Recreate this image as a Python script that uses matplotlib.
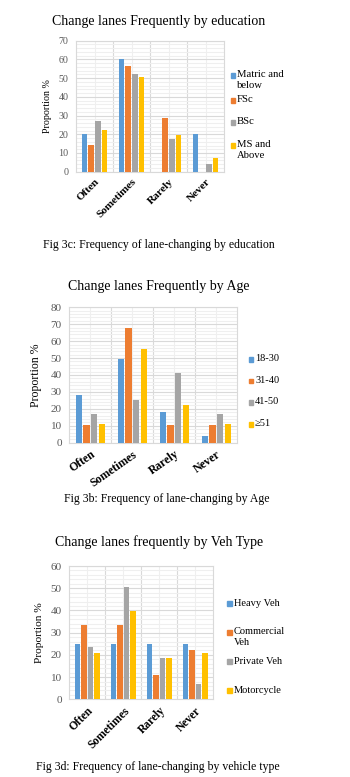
import numpy as np
import matplotlib
matplotlib.use("Agg")
import matplotlib.pyplot as plt
from matplotlib.patches import Rectangle

plt.rcParams['font.family'] = ['Liberation Serif', 'DejaVu Serif']

categories = ["Often", "Sometimes", "Rarely", "Never"]
colors = ["#5B9BD5", "#ED7D31", "#A5A5A5", "#FFC000"]

# Fig 3c - education
edu_labels = ["Matric and\nbelow", "FSc", "BSc", "MS and\nAbove"]
edu_matric = [20.0, 60.0, 0.0, 20.0]
edu_fsc = [14.2, 56.7, 28.6, 0.0]
edu_bsc = [27.0, 52.0, 17.3, 4.0]
edu_ms = [22.2, 50.4, 19.5, 7.3]

# Fig 3b - age
age_labels = ["18-30", "31-40", "41-50", "\u226551"]
age_18_30 = [28.2, 49.6, 18.0, 3.9]
age_31_40 = [10.3, 67.9, 10.3, 10.3]
age_41_50 = [16.8, 25.1, 41.3, 16.8]
age_51 = [10.9, 55.5, 22.3, 10.9]

# Fig 3d - vehicle type
veh_labels = ["Heavy Veh", "Commercial\nVeh", "Private Veh", "Motorcycle"]
veh_heavy = [25.0, 25.0, 25.0, 25.0]
veh_commercial = [33.4, 33.4, 11.0, 22.2]
veh_private = [23.5, 50.6, 18.6, 6.9]
veh_moto = [20.8, 39.7, 18.6, 20.8]

W, H = 350, 777
fig = plt.figure(figsize=(W / 100, H / 100), dpi=100)
fig.patch.set_facecolor("white")


def fx(px):
    return px / W


def fy(py):
    return 1 - py / H


def panel(series, labels, ymax, box, title, title_xy, caption, cap_xy,
          ylab_x, leg_x, leg_ys, rot=45, ytick_fs=7, ylab_fs=7, xtick_fs=8,
          leg_fs=7.5):
    left, right, top, bottom = box
    ax = fig.add_axes([fx(left), fy(bottom), fx(right - left), (bottom - top) / H])
    x = np.arange(len(categories))
    pitch, bw = 0.18, 0.145
    for i, (vals, c) in enumerate(zip(series, colors)):
        ax.bar(x + (i - 1.5) * pitch, vals, width=bw, color=c, zorder=3)
    ax.set_xlim(-0.5, len(categories) - 0.5)
    ax.set_ylim(0, ymax)
    ax.set_yticks(np.arange(0, ymax + 1, 10))
    ax.set_yticks(np.arange(0, ymax + 1, 2), minor=True)
    ax.set_xticks(x)
    ax.set_xticks(x[:-1] + 0.5, minor=True)
    ax.grid(which="major", axis="y", color="#D9D9D9", lw=0.8, zorder=0)
    ax.grid(which="minor", axis="y", color="#EFEFEF", lw=0.8, zorder=0)
    ax.grid(which="minor", axis="x", color="#D9D9D9", lw=0.8, zorder=0)
    ax.grid(which="major", axis="x", color="#EFEFEF", lw=0.8, zorder=0)
    for s in ax.spines.values():
        s.set_color("#D9D9D9")
        s.set_linewidth(0.8)
    ax.tick_params(which="both", length=0)
    ax.tick_params(axis="y", labelsize=ytick_fs, labelcolor="#595959", pad=5.5)
    ax.set_xticklabels(categories, rotation=rot, ha="right", va="top",
                       rotation_mode="anchor", fontsize=xtick_fs, fontweight="bold")
    ax.tick_params(axis="x", pad=4)
    fig.text(fx(ylab_x), fy((top + bottom) / 2), "Proportion %", rotation=90,
             ha="center", va="center", fontsize=ylab_fs)
    fig.text(fx(title_xy[0]), fy(title_xy[1]), title, ha="center", va="center",
             fontsize=10)
    fig.text(fx(cap_xy[0]), fy(cap_xy[1]), caption, ha="center", va="center",
             fontsize=8.5)
    # legend, marker beside the first line of each label (Excel style)
    for lab, c, ly in zip(labels, colors, leg_ys):
        fig.patches.append(Rectangle((fx(leg_x - 2.5), fy(ly + 2.5)), 5 / W, 5 / H,
                                     color=c, transform=fig.transFigure))
        fig.text(fx(leg_x + 4), fy(ly - 5), lab, ha="left", va="top",
                 fontsize=leg_fs, linespacing=1.3)
    return ax


panel([edu_matric, edu_fsc, edu_bsc, edu_ms], edu_labels, 70,
      (76, 224, 40.7, 171.7), "Change lanes Frequently by education", (159, 21),
      "Fig 3c: Frequency of lane-changing by education", (159, 245),
      47, 233, [75, 100, 122, 145], rot=45, ytick_fs=7.2, ylab_fs=7.2,
      xtick_fs=8, leg_fs=7.7)

panel([age_18_30, age_31_40, age_41_50, age_51], age_labels, 80,
      (69.3, 237.3, 307.3, 442.7), "Change lanes Frequently by Age", (159, 286),
      "Fig 3b: Frequency of lane-changing by Age", (167, 499.3),
      36, 251, [359.3, 381, 402.3, 424.3], rot=35, ytick_fs=8, ylab_fs=8.5,
      xtick_fs=8.5, leg_fs=7.5)

panel([veh_heavy, veh_commercial, veh_private, veh_moto], veh_labels, 60,
      (69.3, 213.3, 566, 699.3), "Change lanes frequently by Veh Type", (159, 541.7),
      "Fig 3d: Frequency of lane-changing by vehicle type", (158, 766.7),
      40, 229.5, [603.5, 632.3, 661.7, 690.7], rot=45, ytick_fs=8, ylab_fs=8.2,
      xtick_fs=8.3, leg_fs=7.5)

fig.savefig("out.png", dpi=100, facecolor="white")
